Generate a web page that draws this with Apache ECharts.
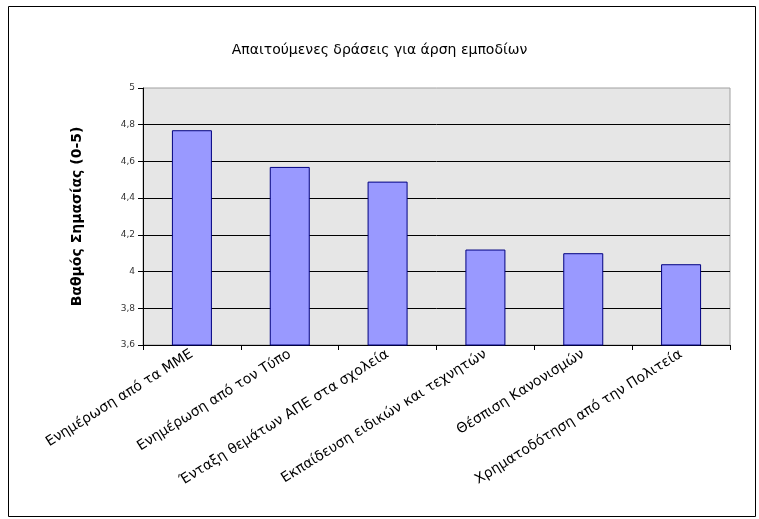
<!DOCTYPE html>
<html>
<head>
<meta charset="utf-8">
<script src="https://cdn.jsdelivr.net/npm/echarts@6/dist/echarts.min.js"></script>
<style>html,body{margin:0;padding:0;background:#fff}#c{width:759px;height:519px}</style>
</head>
<body>
<div id="c"></div>
<script>
const categories = [
  "Ενημέρωση από τα ΜΜΕ",
  "Ενημέρωση από τον Τύπο",
  "Ένταξη θεμάτων ΑΠΕ στα σχολεία",
  "Εκπαίδευση ειδικών και τεχνητών",
  "Θέσπιση Κανονισμών",
  "Χρηματοδότηση από την Πολιτεία"
];
const values = [4.77, 4.57, 4.49, 4.12, 4.10, 4.04];
const yMin = 3.6, yMax = 5, yStep = 0.2;
const titleText = "Απαιτούμενες δράσεις για άρση εμποδίων";
const yName = "Βαθμός Σημασίας (0-5)";

const FONT = 'DejaVu Sans, Verdana, sans-serif';
const chart = echarts.init(document.getElementById('c'), null, {renderer: 'canvas'});
chart.setOption({
  animation: false,
  backgroundColor: '#ffffff',
  textStyle: {fontFamily: FONT},
  title: {
    text: titleText, left: 'center', top: 38,
    textStyle: {fontSize: 14, fontWeight: 'normal', color: '#000', fontFamily: FONT}
  },
  graphic: [{
    type: 'rect', left: 6, top: 4, silent: true,
    shape: {width: 747, height: 510},
    style: {fill: 'none', stroke: '#000', lineWidth: 1}
  }],
  grid: {
    left: 143, right: 29, top: 88, bottom: 174,
    show: true, backgroundColor: '#e6e6e6', borderColor: '#a0a0a0', borderWidth: 1
  },
  xAxis: {
    type: 'category', data: categories,
    axisLine: {lineStyle: {color: '#000', width: 1}},
    axisTick: {show: true, length: 5, lineStyle: {color: '#000'}},
    axisLabel: {rotate: 32, interval: 0, margin: 8, fontSize: 14, color: '#000', fontFamily: FONT}
  },
  yAxis: {
    type: 'value', min: yMin, max: yMax, interval: yStep,
    name: yName, nameLocation: 'middle', nameRotate: 90, nameGap: 59,
    nameTextStyle: {fontSize: 14, fontWeight: 'bold', color: '#000', fontFamily: FONT},
    axisLine: {show: true, lineStyle: {color: '#000', width: 1}},
    axisTick: {show: true, length: 5, lineStyle: {color: '#000'}},
    axisLabel: {fontSize: 9, color: '#333', margin: 8, fontFamily: FONT,
      formatter: v => (Math.round(v * 10) / 10).toString().replace('.', ',')},
    splitLine: {show: true, showMinLine: false, showMaxLine: false, lineStyle: {color: '#000', width: 1}}
  },
  series: [{
    type: 'bar', data: values, barWidth: 40,
    itemStyle: {color: '#9999ff', borderColor: '#000080', borderWidth: 1}
  }]
});
</script>
</body>
</html>
